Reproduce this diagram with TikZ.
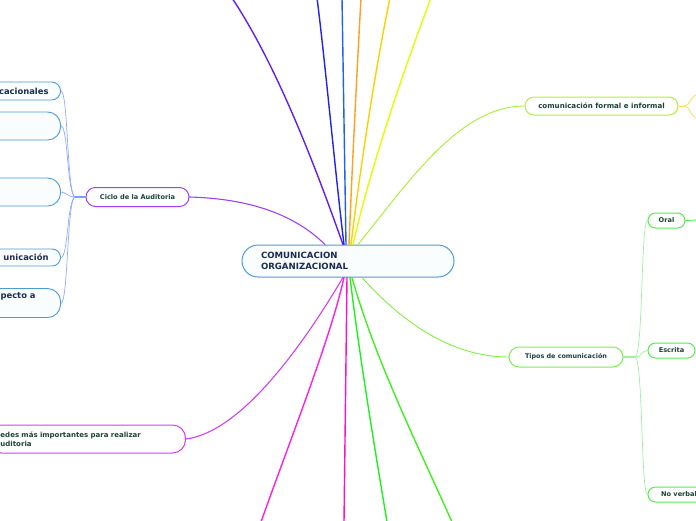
\documentclass[tikz,border=0pt]{standalone}
\usepackage{fontspec}
\setmainfont{DejaVu Sans}
\definecolor{cblue}{HTML}{4D9BD6}
\definecolor{cfill}{HTML}{FAFDFE}
\definecolor{navy}{HTML}{1A2A50}
\definecolor{dgreen}{HTML}{1A4236}
\definecolor{ciclocol}{HTML}{A040F0}
\definecolor{redcol}{HTML}{D040F0}
\definecolor{formcol}{HTML}{B0F040}
\definecolor{tiposcol}{HTML}{78F050}
\definecolor{tchild}{HTML}{50F050}
\definecolor{tbranch}{HTML}{A0F0A0}
\definecolor{lbranch}{HTML}{90ACFF}
\definecolor{violet1}{HTML}{6020F0}
\definecolor{blue1}{HTML}{2222F0}
\definecolor{blue2}{HTML}{2060F8}
\definecolor{orange1}{HTML}{FFA020}
\definecolor{gold1}{HTML}{FFD000}
\definecolor{yell1}{HTML}{E0FF00}
\definecolor{lime1}{HTML}{A8F030}
\definecolor{mag1}{HTML}{FF20E0}
\definecolor{pink1}{HTML}{FF10C0}
\definecolor{green1}{HTML}{20F020}
\definecolor{green2}{HTML}{40F020}
\definecolor{green3}{HTML}{80F040}
\definecolor{yconn}{HTML}{FFE060}
\begin{document}
\begin{tikzpicture}[x=1pt,y=-1pt,line cap=round,
  mainline/.style={line width=1.4pt},
  thinline/.style={line width=0.9pt},
  leftbox/.style={draw=cblue,fill=cfill,line width=0.9pt,anchor=east,text=navy,font=\bfseries\fontsize{8.4}{11}\selectfont},
  greenbox/.style={fill=white,line width=1pt,text=dgreen,font=\bfseries\fontsize{6.6}{8}\selectfont,inner sep=0pt},
]
\useasboundingbox (0,0) rectangle (696,520);
\clip (0,0) rectangle (696,520);

% nodes
\node[draw=cblue,fill=cfill,line width=1pt,rounded corners=16pt,minimum height=32pt,
  text width=174pt,inner xsep=19pt,align=left,text=navy,
  font=\bfseries\fontsize{8.6}{11}\selectfont] (root) at (348,261) {COMUNICACION\\ORGANIZACIONAL};

\node[greenbox,draw=ciclocol,rounded corners=9.5pt,minimum width=103pt,minimum height=19pt] (ciclo) at (137.5,197) {Ciclo de la Auditoria};
\node[greenbox,draw=formcol,rounded corners=9pt,minimum width=153pt,minimum height=18pt,font=\bfseries\fontsize{7.1}{8}\selectfont] (formal) at (601.5,106) {comunicación formal e informal};
\node[greenbox,draw=tiposcol,rounded corners=10pt,minimum width=114pt,minimum height=20pt,font=\bfseries\fontsize{6.4}{8}\selectfont] (tipos) at (566,357) {Tipos de comunicación};
\node[greenbox,draw=tchild,rounded corners=7.5pt,minimum width=37pt,minimum height=15pt] (oral) at (666.5,220.5) {Oral};
\node[greenbox,draw=tchild,rounded corners=7.5pt,minimum width=47pt,minimum height=15pt] (escrita) at (671.5,350.5) {Escrita};
\node[greenbox,draw=tchild,rounded corners=7.5pt,minimum width=62pt,minimum height=15pt] (noverbal) at (679,494.5) {No verbal};

\node[leftbox,rounded corners=9pt,minimum height=18pt,inner xsep=12pt] (c1) at (61,91) {cacionales};
\node[leftbox,rounded corners=13pt,minimum height=28pt,minimum width=120pt] (c2) at (61,126) {};
\node[leftbox,rounded corners=13pt,minimum height=28pt,minimum width=120pt] (c3) at (61,192) {};
\node[leftbox,rounded corners=8.5pt,minimum height=17pt,inner xsep=12pt] (c4) at (61,257.5) {unicación};
\node[leftbox,rounded corners=13pt,minimum height=29pt,text width=46pt,align=left,inner xsep=14pt,inner ysep=2pt] (c5) at (61,303) {pecto a\\ \strut};

\node[draw=redcol,fill=white,line width=1pt,rounded corners=13pt,anchor=east,minimum height=28pt,
  text width=173pt,inner xsep=12pt,align=left,text=dgreen,
  font=\bfseries\fontsize{7}{8.5}\selectfont] (redes) at (186,439) {edes más importantes para realizar\\uditoria};

% free ends
\coordinate (t1) at (232,-2);
\coordinate (t2) at (317,-2);
\coordinate (t3) at (342,-2);
\coordinate (t4) at (361,-2);
\coordinate (t5) at (390,-2);
\coordinate (t6) at (431,-2);
\coordinate (b1) at (261,522);
\coordinate (b2) at (344,522);
\coordinate (b3) at (387,522);
\coordinate (b4) at (452,522);
\coordinate (fy1) at (698,94);
\coordinate (fy2) at (698,119);
\coordinate (fo) at (698,220);

% top branches
\draw[mainline,violet1] ([xshift=-5pt]root.north) .. controls (320,180) and (280,70) .. (t1);
\draw[mainline,blue1] ([xshift=-4pt]root.north) .. controls (336,180) and (325,60) .. (t2);
\draw[mainline,blue2] ([xshift=-2pt]root.north) -- (t3);
\draw[mainline,orange1] ([xshift=1pt]root.north) .. controls (352,170) and (357,70) .. (t4);
\draw[mainline,gold1] ([xshift=3pt]root.north) .. controls (360,170) and (375,70) .. (t5);
\draw[mainline,yell1] ([xshift=5pt]root.north) .. controls (370,170) and (400,80) .. (t6);
\draw[thinline,lime1] ([xshift=10pt]root.north) .. controls (410,180) and (460,106) .. (formal.west);
\draw[thinline,ciclocol,line width=1.1pt] ([xshift=-23pt]root.north) .. controls (300,220) and (260,199) .. (ciclo.east);

% bottom branches
\draw[thinline,redcol,line width=1.1pt] ([xshift=-5pt]root.south) .. controls (300,350) and (240,432) .. (redes.east);
\draw[mainline,mag1] ([xshift=-4pt]root.south) .. controls (330,340) and (290,440) .. (b1);
\draw[mainline,pink1] ([xshift=-1pt]root.south) -- (b2);
\draw[mainline,green1] ([xshift=2pt]root.south) .. controls (360,360) and (375,450) .. (b3);
\draw[mainline,green2] ([xshift=4pt]root.south) .. controls (375,360) and (420,450) .. (b4);
\draw[thinline,green3] ([xshift=14pt]root.south) .. controls (400,320) and (450,357) .. (tipos.west);

% formal right
\draw[thinline,yconn] (formal.east) -- ++(6,0) coordinate (fj);
\draw[thinline,yconn] (fj) .. controls (690,106) and (690,96) .. (fy1);
\draw[thinline,yconn] (fj) .. controls (690,106) and (690,117) .. (fy2);

% ciclo children
\draw[cblue!40!lbranch,line width=2pt] (ciclo.west) -- ++(-11,0) coordinate (cb);
\draw[line width=0.7pt,lbranch] (cb) .. controls (67,190) and (68,91) .. (c1.east);
\draw[line width=0.7pt,lbranch] (cb) .. controls (67,190) and (68,126) .. (c2.east);
\draw[line width=0.7pt,lbranch] (cb) .. controls (68,197) and (66,192) .. (c3.east);
\draw[line width=0.7pt,lbranch] (cb) .. controls (67,204) and (68,257.5) .. (c4.east);
\draw[line width=0.7pt,lbranch] (cb) .. controls (67,204) and (68,303) .. (c5.east);

% tipos children
\draw[tbranch,line width=2pt] (tipos.east) -- ++(12,0) coordinate (tb);
\draw[line width=0.7pt,tbranch] (tb) .. controls (643,350) and (641,220.5) .. (oral.west);
\draw[line width=0.7pt,tbranch] (tb) .. controls (641,357) and (642,350.5) .. (escrita.west);
\draw[line width=0.7pt,tbranch] (tb) .. controls (643,364) and (641,494.5) .. (noverbal.west);
\draw[thinline,tchild] (oral.east) -- (fo);
\end{tikzpicture}
\end{document}
